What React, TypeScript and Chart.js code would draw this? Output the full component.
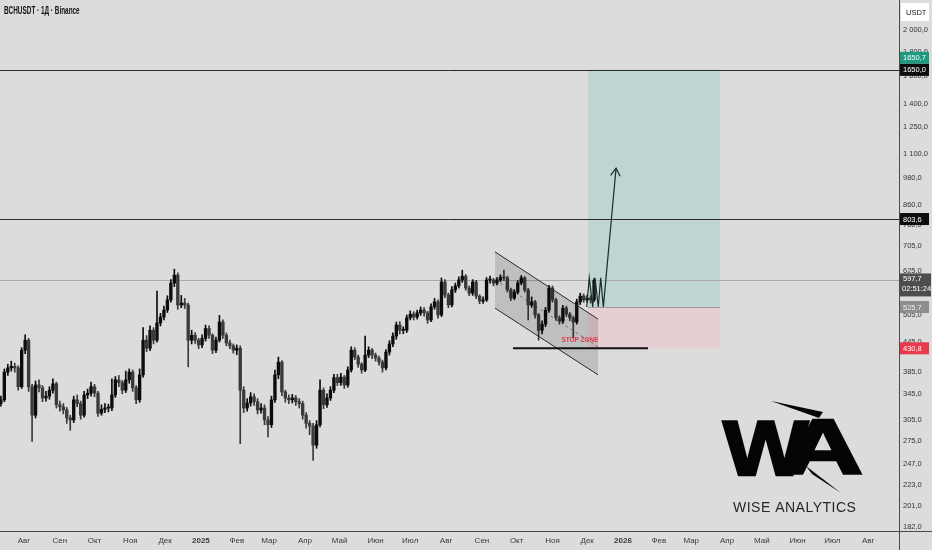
import React, { useEffect, useRef } from "react";
import { Chart, registerables } from "chart.js";

Chart.register(...registerables);

// ---------- data ----------
const TITLE = "BCHUSDT · 1Д · Binance";
const BRAND = "WISE ANALYTICS";

// x axis: days counted from 2024-07-01; one candle every 3 days starting 2024-07-12
const FIRST_DAY = 11;
const DAY_STEP = 3;

const MONTH_LABELS = ["Авг", "Сен", "Окт", "Ноя", "Дек", "2025", "Фев", "Мар", "Апр", "Май", "Июн", "Июл", "Авг", "Сен", "Окт", "Ноя", "Дек", "2026", "Фев", "Мар", "Апр", "Май", "Июн", "Июл", "Авг"];
const MONTH_DAYS = [31, 62, 92, 123, 153, 184, 215, 243, 274, 304, 335, 365, 396, 427, 457, 488, 518, 549, 580, 608, 639, 669, 700, 730, 761];
const YEAR_LABELS = ["2025", "2026"];

const PRICE_TICKS = [2000, 1800, 1600, 1400, 1250, 1100, 980, 860, 780, 705, 625, 565, 505, 445, 385, 345, 305, 275, 247, 223, 201, 182];

const FIRST_OPEN = 330;
const CLOSES = [
  336, 384, 392, 395, 392, 358, 427, 448, 358, 312,
  361, 356, 339, 342, 352, 363, 328, 325, 320, 308,
  305, 336, 330, 312, 344, 347, 358, 347, 315, 321,
  323, 323, 344, 370, 365, 352, 370, 384, 356, 336,
  379, 448, 431, 470, 448, 487, 501, 518, 544, 590,
  613, 531, 536, 531, 448, 459, 448, 438, 452, 474,
  459, 427, 448, 489, 459, 442, 436, 427, 431, 352,
  323, 331, 341, 333, 320, 323, 305, 298, 336, 379,
  403, 349, 339, 336, 339, 333, 330, 312, 300, 296,
  270, 298, 352, 328, 339, 352, 374, 365, 375, 361,
  388, 427, 413, 399, 388, 417, 427, 417, 411, 403,
  392, 423, 440, 457, 482, 470, 470, 499, 508, 501,
  511, 518, 511, 494, 526, 539, 506, 593, 557, 531,
  571, 582, 599, 610, 576, 562, 593, 554, 541, 544,
  599, 599, 590, 599, 607, 605, 571, 549, 565, 590,
  605, 571, 531, 539, 506, 470, 484, 518, 576, 544,
  499, 491, 523, 508, 499, 489, 539, 554, 544, 549,
  544, 597.7,
];
const HIGHS = [
  342, 390, 399, 405, 401, 396, 432, 460, 452, 362,
  368, 370, 360, 350, 358, 372, 366, 334, 330, 324,
  312, 342, 344, 334, 350, 354, 366, 362, 350, 328,
  330, 329, 372, 376, 378, 369, 386, 390, 388, 360,
  390, 476, 458, 480, 476, 568, 510, 528, 555, 600,
  631, 620, 556, 548, 536, 470, 465, 452, 460, 482,
  480, 462, 455, 505, 494, 464, 448, 440, 438, 436,
  358, 338, 348, 346, 338, 330, 328, 310, 342, 388,
  413, 406, 352, 344, 345, 343, 338, 334, 316, 304,
  300, 304, 370, 356, 346, 358, 380, 380, 382, 378,
  394, 434, 432, 417, 402, 457, 434, 431, 421, 415,
  407, 428, 447, 464, 489, 490, 478, 506, 516, 514,
  518, 526, 524, 515, 534, 548, 544, 605, 600, 562,
  580, 590, 608, 628, 615, 582, 600, 598, 558, 552,
  606, 610, 604, 606, 614, 628, 610, 576, 572, 597,
  612, 609, 575, 552, 543, 510, 492, 525, 584, 582,
  548, 504, 530, 528, 512, 503, 546, 562, 560, 556,
  555, 603,
];
const LOWS = [
  326, 333, 378, 386, 384, 352, 355, 420, 350, 275,
  308, 349, 333, 334, 337, 347, 323, 318, 314, 300,
  290, 301, 325, 306, 309, 338, 342, 341, 310, 312,
  316, 317, 319, 340, 358, 346, 348, 364, 350, 330,
  332, 375, 424, 426, 440, 444, 480, 494, 512, 538,
  580, 520, 524, 522, 394, 440, 441, 430, 432, 446,
  452, 420, 422, 444, 452, 436, 430, 421, 418, 272,
  316, 318, 326, 327, 314, 315, 298, 281, 294, 332,
  372, 343, 332, 330, 331, 327, 323, 306, 293, 284,
  251, 266, 295, 322, 324, 335, 348, 360, 360, 355,
  357, 384, 408, 393, 382, 385, 412, 410, 405, 397,
  384, 388, 417, 434, 450, 462, 462, 465, 494, 494,
  496, 505, 503, 486, 490, 520, 498, 502, 550, 524,
  526, 564, 576, 592, 570, 555, 556, 547, 534, 535,
  540, 590, 582, 585, 594, 598, 565, 542, 545, 560,
  585, 565, 494, 525, 498, 448, 462, 478, 512, 538,
  493, 484, 486, 502, 492, 453, 484, 532, 538, 538,
  536, 540,
];

// levels
const LAST_PRICE = 597.7;
const LAST_TIMER = "02:51:24";
const RESISTANCE_HIGH = 1650.0;
const RESISTANCE_MID = 803.6;
const ENTRY = 525.7;
const TARGET = 1650.7;
const STOP = 430.8;

// ---------- view ----------
const W = 932;
const H = 550;
const BG = "#dcdcdc";
const FONT = '"Liberation Sans Narrow", "Liberation Sans", Arial, sans-serif';
const X_MIN = 10.25;
const X_MAX = 787.66;
const Y_MIN = 178.5;
const Y_MAX = 2311;

function fmtTick(v: number): string {
  const s = v.toFixed(1);
  const [i, d] = s.split(".");
  const int = i.length > 3 ? i.slice(0, i.length - 3) + " " + i.slice(-3) : i;
  return int + "," + d;
}
function fmtTag(v: number): string {
  return v.toFixed(1).replace(".", ",");
}

const overlay = {
  id: "overlay",
  beforeDraw(chart: any) {
    const ctx = chart.ctx;
    ctx.save();
    ctx.fillStyle = BG;
    ctx.fillRect(0, 0, chart.width, chart.height);
    ctx.restore();
  },
  beforeDatasetsDraw(chart: any) {
    const ctx = chart.ctx;
    const xs = chart.scales.x;
    const ys = chart.scales.y;
    const X = (d: number) => xs.getPixelForValue(d);
    const Y = (p: number) => ys.getPixelForValue(p);
    const area = chart.chartArea;
    ctx.save();
    // position tool boxes
    const bx0 = X(518.7), bx1 = X(632.9);
    ctx.fillStyle = "#bed5d1";
    ctx.fillRect(bx0, Y(TARGET), bx1 - bx0, Y(ENTRY) - Y(TARGET));
    ctx.fillStyle = "#e6ced2";
    ctx.fillRect(bx0, Y(ENTRY), bx1 - bx0, Y(STOP) - Y(ENTRY));
    // current price line
    ctx.strokeStyle = "#a9a9a9";
    ctx.lineWidth = 1;
    ctx.beginPath();
    ctx.moveTo(area.left, Math.round(Y(LAST_PRICE)) + 0.5);
    ctx.lineTo(area.right, Math.round(Y(LAST_PRICE)) + 0.5);
    ctx.stroke();
    // entry line across box
    ctx.strokeStyle = "#9a9a9a";
    ctx.beginPath();
    ctx.moveTo(bx0, Math.round(Y(ENTRY)) + 0.5);
    ctx.lineTo(bx1, Math.round(Y(ENTRY)) + 0.5);
    ctx.stroke();
    ctx.restore();
  },
  afterDatasetsDraw(chart: any) {
    const ctx = chart.ctx;
    const xs = chart.scales.x;
    const ys = chart.scales.y;
    const X = (d: number) => xs.getPixelForValue(d);
    const Y = (p: number) => ys.getPixelForValue(p);
    const area = chart.chartArea;
    ctx.save();
    // channel
    const c0 = X(438.3), c1 = X(527.4);
    ctx.fillStyle = "rgba(0,0,0,0.13)";
    ctx.beginPath();
    ctx.moveTo(c0, Y(686));
    ctx.lineTo(c1, Y(496));
    ctx.lineTo(c1, Y(379));
    ctx.lineTo(c0, Y(523));
    ctx.closePath();
    ctx.fill();
    ctx.strokeStyle = "#2a2a2a";
    ctx.lineWidth = 1;
    ctx.beginPath();
    ctx.moveTo(c0, Y(686));
    ctx.lineTo(c1, Y(496));
    ctx.moveTo(c0, Y(523));
    ctx.lineTo(c1, Y(379));
    ctx.stroke();
    ctx.strokeStyle = "rgba(40,40,40,0.45)";
    ctx.setLineDash([3, 3]);
    ctx.beginPath();
    ctx.moveTo(c0, Y(599));
    ctx.lineTo(c1, Y(434));
    ctx.stroke();
    ctx.setLineDash([]);

    // horizontal levels
    ctx.strokeStyle = "#2b2b2b";
    ctx.lineWidth = 1;
    for (const lv of [RESISTANCE_HIGH, RESISTANCE_MID]) {
      const y = Math.round(Y(lv)) + 0.5;
      ctx.beginPath();
      ctx.moveTo(area.left, y);
      ctx.lineTo(area.right, y);
      ctx.stroke();
    }

    // stop line
    ctx.strokeStyle = "#111";
    ctx.lineWidth = 2;
    ctx.beginPath();
    ctx.moveTo(X(453.9), Y(STOP));
    ctx.lineTo(X(570.6), Y(STOP));
    ctx.stroke();

    // STOP ZONE text
    ctx.fillStyle = "#e23a52";
    ctx.font = `bold 8px "Liberation Sans", Arial, sans-serif`;
    ctx.textAlign = "center";
    ctx.textBaseline = "middle";
    ctx.save();
    ctx.translate(X(511.8), Y(448));
    ctx.scale(0.8, 1);
    ctx.fillText("STOP ZONE", 0, 0);
    ctx.restore();

    // zigzag + arrow
    const zzDays = [517.6, 519.8, 522.8, 524.8, 527.6, 529.7, 532.0];
    const zzPrices = [ENTRY, 605, ENTRY, 605, ENTRY, 605, ENTRY];
    ctx.strokeStyle = "#1b2b28";
    ctx.lineWidth = 1.2;
    ctx.beginPath();
    zzDays.forEach((d, i) => {
      if (i === 0) ctx.moveTo(X(d), Y(zzPrices[i]));
      else ctx.lineTo(X(d), Y(zzPrices[i]));
    });
    const tx = X(543.0), ty = Y(1027);
    ctx.lineTo(tx, ty);
    ctx.stroke();
    const sx = X(532.0), sy = Y(ENTRY);
    const ang = Math.atan2(ty - sy, tx - sx);
    const len = 9;
    ctx.beginPath();
    ctx.moveTo(tx + len * Math.cos(ang + Math.PI - 0.55), ty + len * Math.sin(ang + Math.PI - 0.55));
    ctx.lineTo(tx, ty);
    ctx.lineTo(tx + len * Math.cos(ang + Math.PI + 0.55), ty + len * Math.sin(ang + Math.PI + 0.55));
    ctx.stroke();
    ctx.restore();
  },
  afterDraw(chart: any) {
    const ctx = chart.ctx;
    const ys = chart.scales.y;
    const Y = (p: number) => ys.getPixelForValue(p);
    const area = chart.chartArea;
    ctx.save();
    // axis lines
    ctx.strokeStyle = "#4a4a4a";
    ctx.lineWidth = 1;
    ctx.beginPath();
    ctx.moveTo(Math.round(area.right) + 0.5, 0);
    ctx.lineTo(Math.round(area.right) + 0.5, H);
    ctx.moveTo(0, Math.round(area.bottom) + 0.5);
    ctx.lineTo(W, Math.round(area.bottom) + 0.5);
    ctx.stroke();

    const ax = Math.round(area.right) + 1;
    const tag = (yc: number, text: string, bg: string, fg: string) => {
      ctx.fillStyle = bg;
      ctx.fillRect(ax, yc - 6, 29, 12);
      ctx.fillStyle = fg;
      ctx.font = `7.5px ${FONT}`;
      ctx.textAlign = "left";
      ctx.textBaseline = "middle";
      ctx.fillText(text, ax + 3, yc + 0.5);
    };
    // USDT box
    ctx.fillStyle = "#ffffff";
    ctx.fillRect(ax + 1, 3, 28, 18);
    ctx.fillStyle = "#222";
    ctx.font = `7.5px ${FONT}`;
    ctx.textAlign = "left";
    ctx.textBaseline = "middle";
    ctx.fillText("USDT", ax + 6, 12.5);

    tag(Y(TARGET) - 12, fmtTag(TARGET), "#1f9a80", "#ffffff");
    tag(Y(RESISTANCE_HIGH), fmtTag(RESISTANCE_HIGH), "#0d0d0d", "#ffffff");
    tag(Y(RESISTANCE_MID), fmtTag(RESISTANCE_MID), "#0d0d0d", "#ffffff");
    // last price + timer
    const ly = Y(LAST_PRICE);
    ctx.fillStyle = "#4d4d4d";
    ctx.fillRect(ax, ly - 7, 31, 23);
    ctx.fillStyle = "#ffffff";
    ctx.font = `7.5px ${FONT}`;
    ctx.fillText(fmtTag(LAST_PRICE), ax + 3, ly - 1);
    ctx.fillText(LAST_TIMER, ax + 2, ly + 9);
    tag(Y(ENTRY), fmtTag(ENTRY), "#8e8e8e", "#eeeeee");
    tag(Y(STOP), fmtTag(STOP), "#e8394d", "#ffffff");

    // title
    ctx.save();
    ctx.fillStyle = "#111";
    ctx.font = `bold 10px "Liberation Sans", Arial, sans-serif`;
    ctx.textAlign = "left";
    ctx.textBaseline = "middle";
    ctx.translate(4, 11);
    ctx.scale(0.64, 1);
    ctx.fillText(TITLE, 0, 0);
    ctx.restore();

    // WA logo
    ctx.save();
    ctx.fillStyle = "#050505";
    ctx.strokeStyle = "#050505";
    ctx.lineWidth = 2.5;
    ctx.lineJoin = "miter";
    ctx.font = `bold 78px "Liberation Sans", Arial, sans-serif`;
    ctx.textAlign = "left";
    ctx.textBaseline = "alphabetic";
    ctx.save();
    ctx.translate(723, 475);
    ctx.scale(1.16, 1);
    ctx.fillText("W", 0, 0);
    ctx.strokeText("W", 0, 0);
    ctx.restore();
    ctx.save();
    ctx.translate(783, 474);
    ctx.scale(1.42, 1);
    ctx.fillText("A", 0, 0);
    ctx.strokeText("A", 0, 0);
    ctx.restore();
    ctx.beginPath();
    ctx.moveTo(771, 401);
    ctx.lineTo(823, 412);
    ctx.lineTo(819, 418);
    ctx.closePath();
    ctx.fill();
    ctx.beginPath();
    ctx.moveTo(806, 466);
    ctx.lineTo(841, 493);
    ctx.lineTo(812, 474);
    ctx.closePath();
    ctx.fill();
    ctx.fillStyle = "#262626";
    ctx.font = `14px "Liberation Sans", Arial, sans-serif`;
    (ctx as any).letterSpacing = "0.5px";
    ctx.textBaseline = "alphabetic";
    ctx.fillText(BRAND, 733, 512);
    ctx.restore();
    ctx.restore();
  },
};

export default function App() {
  const ref = useRef<HTMLCanvasElement>(null);
  useEffect(() => {
    const canvas = ref.current;
    if (!canvas) return;
    const days = CLOSES.map((_, i) => FIRST_DAY + DAY_STEP * i);
    const opens = CLOSES.map((_, i) => (i === 0 ? FIRST_OPEN : CLOSES[i - 1]));
    const colors = CLOSES.map((c, i) => (c >= opens[i] ? "#0c0c0c" : "#3a3a3a"));
    const bodyData = days.map((d, i) => ({ x: d, y: [opens[i], CLOSES[i]] }));
    const wickData = days.map((d, i) => ({ x: d, y: [LOWS[i], HIGHS[i]] }));

    const chart = new Chart(canvas, {
      type: "bar",
      data: {
        datasets: [
          {
            label: "body",
            data: bodyData as any,
            backgroundColor: colors,
            barThickness: 2.7,
            grouped: false,
            minBarLength: 1,
            borderWidth: 0,
          } as any,
          {
            label: "wick",
            data: wickData as any,
            backgroundColor: colors,
            barThickness: 1,
            grouped: false,
            borderWidth: 0,
          } as any,
        ],
      },
      options: {
        animation: false,
        responsive: true,
        maintainAspectRatio: false,
        layout: { padding: 0 },
        plugins: {
          legend: { display: false },
          tooltip: { enabled: false },
          title: { display: false },
        },
        scales: {
          x: {
            type: "linear",
            min: X_MIN,
            max: X_MAX,
            offset: false,
            bounds: "data",
            grid: { display: false, offset: false, drawTicks: false },
            border: { display: false },
            ticks: {
              autoSkip: false,
              maxRotation: 0,
              padding: 5,
              color: "#3a3a3a",
              font: (c: any) => ({
                family: FONT,
                size: 8,
                weight: YEAR_LABELS.includes(MONTH_LABELS[c.index]) ? "bold" : "normal",
              }),
              callback: (_v: any, i: number) => MONTH_LABELS[i],
            },
            afterBuildTicks: (s: any) => {
              s.ticks = MONTH_DAYS.map((v) => ({ value: v }));
            },
            afterFit: (s: any) => {
              s.height = 19;
              s.paddingLeft = 0;
              s.paddingRight = 0;
            },
          } as any,
          y: {
            type: "logarithmic",
            position: "right",
            min: Y_MIN,
            max: Y_MAX,
            bounds: "data",
            grid: { display: false, drawTicks: false },
            border: { display: false },
            ticks: {
              autoSkip: false,
              padding: 4,
              color: "#333",
              font: { family: FONT, size: 7.5 },
              callback: (v: any) => fmtTick(Number(v)),
            },
            afterBuildTicks: (s: any) => {
              s.ticks = PRICE_TICKS.map((v) => ({ value: v }));
            },
            afterFit: (s: any) => {
              s.width = 33;
              s.paddingTop = 0;
              s.paddingBottom = 0;
            },
          } as any,
        },
      },
      plugins: [overlay as any],
    });
    return () => chart.destroy();
  }, []);

  return (
    <div style={{ position: "fixed", left: 0, top: 0, width: W, height: H, background: BG }}>
      <canvas ref={ref} />
    </div>
  );
}
